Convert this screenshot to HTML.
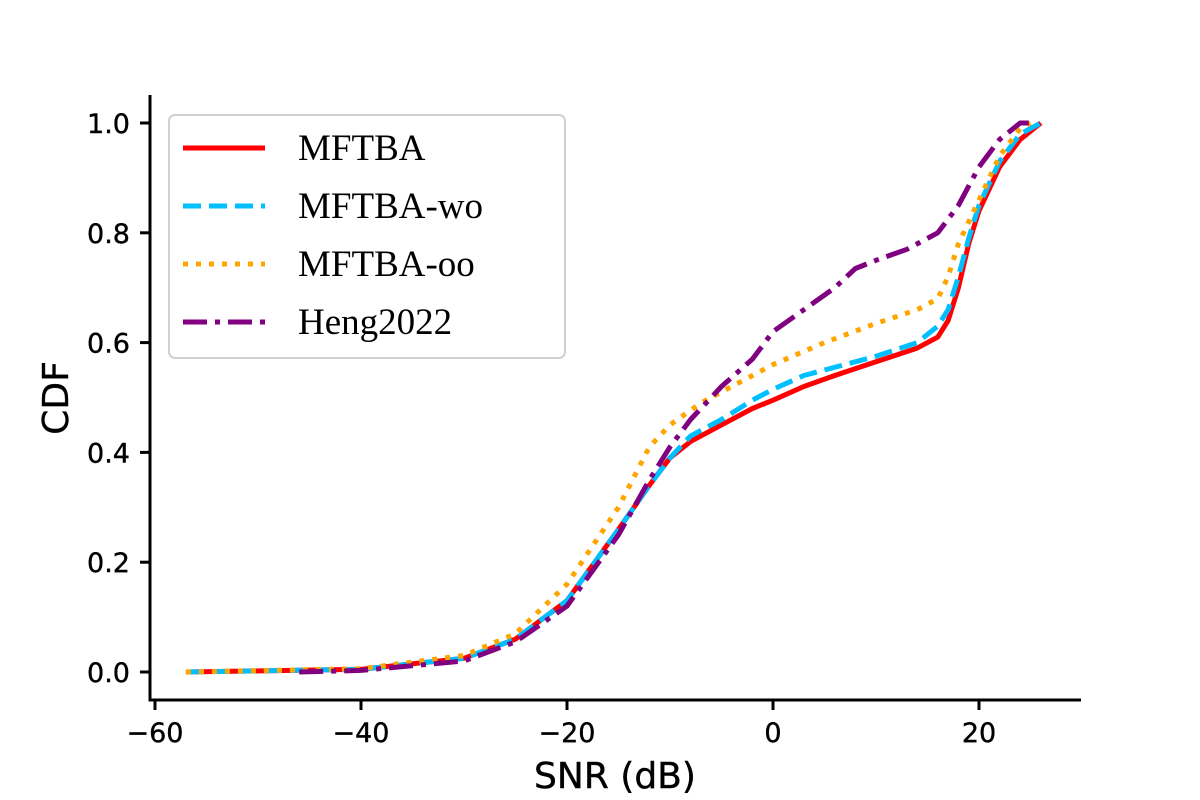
<!DOCTYPE html>
<html><head><meta charset="utf-8"><style>body{margin:0;background:#fff}svg{display:block}</style></head>
<body>
<svg id="chart" width="1200" height="800" xmlns="http://www.w3.org/2000/svg"></svg>
<script>
const xTicks=[-60,-40,-20,0,20];
const yTicks=[0.0,0.2,0.4,0.6,0.8,1.0];
const seriesNames=["MFTBA","MFTBA-wo","MFTBA-oo","Heng2022"];
const mftbaX=[-57,-40,-30,-25,-20,-15,-12,-10,-8,-5,-2,0,3,6,10,14,16,17,18,19,20,22,24,26];
const mftbaY=[0,0.005,0.025,0.06,0.13,0.26,0.34,0.39,0.42,0.45,0.48,0.495,0.52,0.54,0.565,0.59,0.61,0.64,0.70,0.78,0.84,0.92,0.97,1.0];
const woX=[-57,-40,-30,-25,-20,-15,-12,-10,-8,-5,-2,0,3,5,10,14,16,17,18,19,20,22,24,26];
const woY=[0,0.005,0.025,0.06,0.13,0.26,0.34,0.39,0.43,0.46,0.495,0.515,0.54,0.55,0.575,0.60,0.63,0.66,0.72,0.79,0.85,0.93,0.98,1.0];
const ooX=[-57,-40,-30,-25,-20,-15,-12,-10,-7,-4,0,5,10,14,16,17,18,20,22,24,25];
const ooY=[0,0.006,0.03,0.07,0.16,0.30,0.41,0.45,0.49,0.52,0.56,0.60,0.635,0.66,0.68,0.72,0.78,0.86,0.94,0.99,1.0];
const hengX=[-46,-40,-30,-25,-20,-15,-12,-10,-8,-5,-2,0,3,6,8,10,13,16,18,20,22,24,25];
const hengY=[0,0.003,0.02,0.055,0.12,0.25,0.35,0.41,0.46,0.52,0.57,0.62,0.66,0.70,0.735,0.75,0.77,0.80,0.85,0.92,0.97,1.0,1.0];

const NS="http://www.w3.org/2000/svg";
const svg=document.getElementById('chart');
const sx=v=>773+v*10.3;
const sy=c=>672-c*549;
function mk(tag,attrs,parent){const e=document.createElementNS(NS,tag);for(const k in attrs)e.setAttribute(k,attrs[k]);(parent||svg).appendChild(e);return e;}
const FONT='DejaVu Sans, Liberation Sans, sans-serif';

let sp=mk('line',{x1:150,y1:95,x2:150,y2:701.5,stroke:'#000','stroke-width':3});


sp=mk('line',{x1:148.5,y1:700,x2:1081,y2:700,stroke:'#000','stroke-width':3});



xTicks.forEach(t=>{
  const x=sx(t);
  const tk=mk('line',{x1:x,y1:700,x2:x,y2:710,stroke:'#000','stroke-width':3});
  
  
  const tx=mk('text',{x:x,y:742,'text-anchor':'middle','font-family':FONT,'font-size':27,'stroke':'#000','stroke-width':0.4});
  tx.textContent=(t<0?'\u2212'+Math.abs(t):t);
  
  
});
yTicks.forEach(t=>{
  const y=sy(t);
  const tk=mk('line',{x1:140,y1:y,x2:150,y2:y,stroke:'#000','stroke-width':3});
  
  
  const tx=mk('text',{x:130,y:y+10,'text-anchor':'end','font-family':FONT,'font-size':27,'stroke':'#000','stroke-width':0.4});
  tx.textContent=t.toFixed(1);
  
  
});
let at=mk('text',{x:615,y:788,'text-anchor':'middle','font-family':FONT,'font-size':36,'stroke':'#000','stroke-width':0.4});
at.textContent='SNR (dB)';


at=mk('text',{x:0,y:0,'text-anchor':'middle','font-family':FONT,'font-size':36,'stroke':'#000','stroke-width':0.4,transform:'translate(68,398) rotate(-90)'});
at.textContent='CDF';



const styles=[
 {c:'#ff0000',d:'',xs:mftbaX,ys:mftbaY,n:'mftba-line'},
 {c:'#00bfff',d:'18,8',xs:woX,ys:woY,n:'mftba-wo-line'},
 {c:'#ffa500',d:'5,8',xs:ooX,ys:ooY,n:'mftba-oo-line'},
 {c:'#800080',d:'24,8,5,8',xs:hengX,ys:hengY,n:'heng2022-line'}
];
styles.forEach(s=>{
  const d=s.xs.map((v,i)=>(i?'L':'M')+sx(v).toFixed(1)+','+sy(s.ys[i]).toFixed(1)).join(' ');
  const p=mk('path',{d:d,fill:'none',stroke:s.c,'stroke-width':5,'stroke-dasharray':s.d,'stroke-linejoin':'round'});
  
  
});

const lg=mk('g',{});


mk('rect',{x:169,y:115,width:396,height:243,rx:6,fill:'#fff','fill-opacity':0.8,stroke:'#d0d0d0','stroke-width':2},lg);
styles.forEach((s,i)=>{
  const y=148+i*58;
  const l=mk('line',{x1:183,y1:y,x2:265,y2:y,stroke:s.c,'stroke-width':5,'stroke-dasharray':s.d},lg);
  
  
  const t=mk('text',{x:298,y:y+12,'font-family':'Liberation Serif, serif','font-size':37},lg);
  t.textContent=seriesNames[i];
  
  
});
</script>
</body></html>
